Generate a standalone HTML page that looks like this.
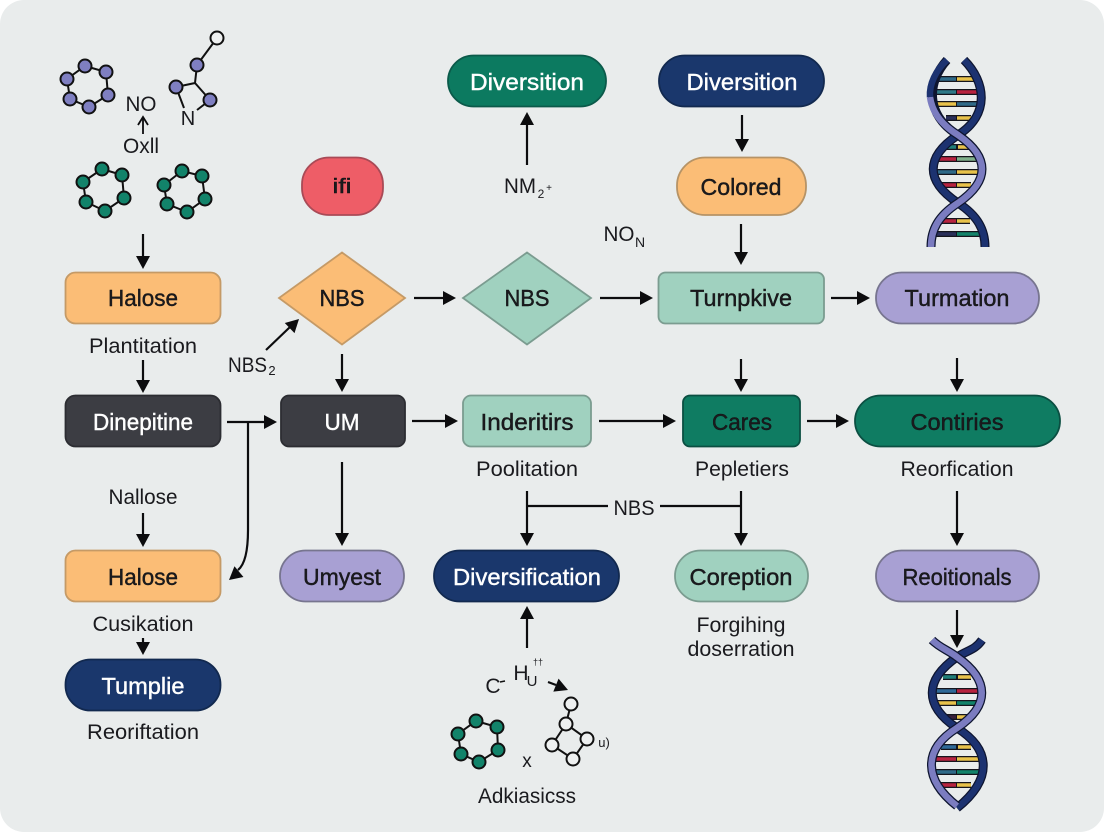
<!DOCTYPE html>
<html><head><meta charset="utf-8"><style>
html,body{margin:0;padding:0;background:#fff;width:1104px;height:832px;overflow:hidden}
svg{display:block}
text{font-family:"Liberation Sans",sans-serif;font-size:21.5px;fill:#1a1a1e;text-anchor:middle}
.n{font-size:23px;stroke:#111;stroke-width:.4px}
.w{font-size:23px;fill:#fff;stroke:#fff;stroke-width:.4px}
.a{stroke:#0c0c0e;stroke-width:2.2;fill:none}
.b{stroke:#111;stroke-width:2}
</style></head><body>
<svg width="1104" height="832" viewBox="0 0 1104 832" xmlns="http://www.w3.org/2000/svg">
<defs>
<g id="ap"><path d="M0 0L-13 -7L-13 7Z" fill="#0c0c0e"/></g>
</defs>
<rect x="0" y="0" width="1104" height="832" rx="24" fill="#e9ecec"/>

<!-- connectors -->
<g class="a">
<path d="M143 234V258"/><path d="M143 360V382"/><path d="M143 513V535"/><path d="M143 638V645"/>
<path d="M227 422H265"/><path d="M248 422V530Q248 562 238 570"/>
<path d="M266 350L290 327"/><path d="M342 354V381"/><path d="M342 462V536"/>
<path d="M414 298H444"/><path d="M600 298H642"/><path d="M831 298H860"/>
<path d="M412 421H447"/><path d="M599 421H665"/><path d="M807 421H838"/>
<path d="M527 165V121"/><path d="M742 115V142"/><path d="M741 224V252"/>
<path d="M741 359V381"/><path d="M957 358V381"/><path d="M957 491V535"/><path d="M957 610V636"/>
<path d="M527 491V534"/><path d="M527 506H608"/><path d="M660 506H741"/><path d="M741 491V534"/>
<path d="M527 648V612"/><path d="M548 682L556 685"/>
<path d="M143 117V134" stroke-width="1.8"/>
</g>
<g>
<use href="#ap" transform="translate(143,269) rotate(90)"/>
<use href="#ap" transform="translate(143,393) rotate(90)"/>
<use href="#ap" transform="translate(143,547) rotate(90)"/>
<use href="#ap" transform="translate(143,655) rotate(90)"/>
<use href="#ap" transform="translate(277,422)"/>
<use href="#ap" transform="translate(229,580) rotate(140)"/>
<use href="#ap" transform="translate(299,319) rotate(-44)"/>
<use href="#ap" transform="translate(342,392) rotate(90)"/>
<use href="#ap" transform="translate(342,546) rotate(90)"/>
<use href="#ap" transform="translate(456,298)"/>
<use href="#ap" transform="translate(653,298)"/>
<use href="#ap" transform="translate(870,298)"/>
<use href="#ap" transform="translate(458,421)"/>
<use href="#ap" transform="translate(676,421)"/>
<use href="#ap" transform="translate(849,421)"/>
<use href="#ap" transform="translate(527,112) rotate(-90)"/>
<use href="#ap" transform="translate(742,152) rotate(90)"/>
<use href="#ap" transform="translate(741,265) rotate(90)"/>
<use href="#ap" transform="translate(741,392) rotate(90)"/>
<use href="#ap" transform="translate(957,392) rotate(90)"/>
<use href="#ap" transform="translate(957,546) rotate(90)"/>
<use href="#ap" transform="translate(957,648) rotate(90)"/>
<use href="#ap" transform="translate(527,546) rotate(90)"/>
<use href="#ap" transform="translate(741,546) rotate(90)"/>
<use href="#ap" transform="translate(527,606) rotate(-90)"/>
<use href="#ap" transform="translate(568,690) rotate(22)"/>
<path d="M138 125L143 117L148 125" fill="none" stroke="#0c0c0e" stroke-width="1.8"/>
</g>

<!-- nodes -->
<g stroke-width="1.8">
<rect x="65.5" y="272.5" width="155" height="51" rx="10" fill="#fbbd76" stroke="#c59a66"/>
<rect x="65.5" y="395.5" width="155" height="51" rx="10" fill="#3c3d43" stroke="#2c2d32"/>
<rect x="65.5" y="550.5" width="155" height="51" rx="10" fill="#fbbd76" stroke="#c59a66"/>
<rect x="65.5" y="659.5" width="155" height="51" rx="25" fill="#1a376c" stroke="#12294f"/>
<rect x="302" y="157.5" width="81" height="57.5" rx="27" fill="#ee5d67" stroke="#a94a56"/>
<path d="M342 252.5L405 298L342 344.5L279 298Z" fill="#fbbd76" stroke="#c59a66"/>
<path d="M527 252.5L591 298L527 344.5L463 298Z" fill="#a0d1bf" stroke="#7b9c90"/>
<rect x="448" y="55.5" width="158" height="51" rx="25.5" fill="#0c7a60" stroke="#0b5a4a"/>
<rect x="659" y="55.5" width="165" height="51" rx="25.5" fill="#1a376c" stroke="#12294f"/>
<rect x="677" y="157.5" width="129" height="57.5" rx="28" fill="#fbbd76" stroke="#b69366"/>
<rect x="658.5" y="272.5" width="165.5" height="51" rx="7" fill="#a0d1bf" stroke="#7b9c90"/>
<rect x="876" y="272.5" width="163" height="51" rx="25.5" fill="#a8a0d3" stroke="#77758f"/>
<rect x="281" y="395.5" width="124" height="51" rx="8" fill="#3c3d43" stroke="#2c2d32"/>
<rect x="463" y="395.5" width="128" height="51" rx="8" fill="#a0d1bf" stroke="#7b9c90"/>
<rect x="683" y="395.5" width="117" height="51" rx="7" fill="#0f7c62" stroke="#0b4f42"/>
<rect x="855" y="395.5" width="205" height="51" rx="25.5" fill="#0f7c62" stroke="#0b4f42"/>
<rect x="280" y="550.5" width="124" height="51" rx="25.5" fill="#a8a0d3" stroke="#77758f"/>
<rect x="434" y="550.5" width="185" height="51" rx="25.5" fill="#1a376c" stroke="#12294f"/>
<rect x="675" y="550.5" width="133" height="51" rx="25.5" fill="#a0d1bf" stroke="#7b9c90"/>
<rect x="876" y="550.5" width="163" height="51" rx="25.5" fill="#a8a0d3" stroke="#77758f"/>
</g>

<!-- node labels -->
<text class="n" x="143" y="306" textLength="70" lengthAdjust="spacingAndGlyphs">Halose</text>
<text class="w" x="143" y="430" textLength="100" lengthAdjust="spacingAndGlyphs">Dinepitine</text>
<text class="n" x="143" y="585" textLength="70" lengthAdjust="spacingAndGlyphs">Halose</text>
<text class="w" x="143" y="694" textLength="83" lengthAdjust="spacingAndGlyphs">Tumplie</text>
<text class="n" x="342" y="193" textLength="19" lengthAdjust="spacingAndGlyphs" style="font-size:20px">ifi</text>
<text class="n" x="342" y="306" textLength="45" lengthAdjust="spacingAndGlyphs">NBS</text>
<text class="n" x="527" y="306" textLength="45" lengthAdjust="spacingAndGlyphs">NBS</text>
<text class="w" x="527" y="90" textLength="114" lengthAdjust="spacingAndGlyphs">Diversition</text>
<text class="w" x="742" y="90" textLength="111" lengthAdjust="spacingAndGlyphs">Diversition</text>
<text class="n" x="741" y="195" textLength="81" lengthAdjust="spacingAndGlyphs">Colored</text>
<text class="n" x="741" y="306" textLength="102" lengthAdjust="spacingAndGlyphs">Turnpkive</text>
<text class="n" x="957" y="306" textLength="105" lengthAdjust="spacingAndGlyphs">Turmation</text>
<text class="w" x="342" y="430" textLength="35" lengthAdjust="spacingAndGlyphs">UM</text>
<text class="n" x="527" y="430" textLength="93" lengthAdjust="spacingAndGlyphs">Inderitirs</text>
<text class="n" x="742" y="430" textLength="60" lengthAdjust="spacingAndGlyphs">Cares</text>
<text class="n" x="957" y="430" textLength="93" lengthAdjust="spacingAndGlyphs">Contiries</text>
<text class="n" x="342" y="585" textLength="78" lengthAdjust="spacingAndGlyphs">Umyest</text>
<text class="w" x="527" y="585" textLength="148" lengthAdjust="spacingAndGlyphs">Diversification</text>
<text class="n" x="741" y="585" textLength="103" lengthAdjust="spacingAndGlyphs">Coreption</text>
<text class="n" x="957" y="585" textLength="109" lengthAdjust="spacingAndGlyphs">Reoitionals</text>

<!-- free labels -->
<text x="143" y="353" textLength="108" lengthAdjust="spacingAndGlyphs">Plantitation</text>
<text x="143" y="504" textLength="69" lengthAdjust="spacingAndGlyphs">Nallose</text>
<text x="143" y="631" textLength="101" lengthAdjust="spacingAndGlyphs">Cusikation</text>
<text x="143" y="739" textLength="112" lengthAdjust="spacingAndGlyphs">Reoriftation</text>
<text x="247.5" y="372" textLength="39" lengthAdjust="spacingAndGlyphs">NBS</text><text x="272" y="375" style="font-size:13px">2</text>
<text x="527" y="476" textLength="102" lengthAdjust="spacingAndGlyphs">Poolitation</text>
<text x="742" y="476" textLength="94" lengthAdjust="spacingAndGlyphs">Pepletiers</text>
<text x="957" y="476" textLength="113" lengthAdjust="spacingAndGlyphs">Reorfication</text>
<text x="634" y="515" textLength="41" lengthAdjust="spacingAndGlyphs">NBS</text>
<text x="741" y="632" textLength="89" lengthAdjust="spacingAndGlyphs">Forgihing</text>
<text x="741" y="656" textLength="107" lengthAdjust="spacingAndGlyphs">doserration</text>
<text x="527" y="803" textLength="98" lengthAdjust="spacingAndGlyphs">Adkiasicss</text>
<text x="520" y="193" textLength="32" lengthAdjust="spacingAndGlyphs">NM</text><text x="541" y="198" style="font-size:12px">2</text><text x="549" y="191" style="font-size:10px">+</text>
<text x="619" y="241" textLength="31" lengthAdjust="spacingAndGlyphs">NO</text><text x="640" y="247" style="font-size:14px">N</text>
<text x="141" y="111" textLength="31" lengthAdjust="spacingAndGlyphs">NO</text>
<text x="141" y="153" textLength="36" lengthAdjust="spacingAndGlyphs">Oxll</text>
<text x="188" y="125" style="font-size:20px">N</text>
<text x="493" y="693" style="font-size:21px">C</text><path d="M500 682l5 -1" stroke="#111" stroke-width="1.5"/>
<text x="521" y="680" style="font-size:21px">H</text><text x="532" y="686" style="font-size:15px">U</text><text x="538" y="665" style="font-size:9px">††</text>
<text x="604" y="747" style="font-size:13px">u)</text>
<text x="527" y="767" style="font-size:19px">x</text>

<!-- molecules -->
<g class="b" fill="none">
<path d="M85 66L106 72L108 95L89 107L70 99L67 79Z"/>
<path d="M217 38L197 65L195 83L176 87L184 108M195 83L210 100L197 110"/>
<path d="M102 169L122 175L124 198L105 211L86 202L83 182Z"/>
<path d="M182 171L202 176L205 199L187 212L167 204L164 185Z"/>
<path d="M476 721L497 727L498 750L479 762L461 754L458 734Z"/>
<path d="M571 704L566 724L587 739L573 759L552 745L566 724"/>
</g>
<g class="b" fill="#7f7fc1">
<circle cx="85" cy="66" r="6.5"/><circle cx="106" cy="72" r="6.5"/><circle cx="108" cy="95" r="6.5"/><circle cx="89" cy="107" r="6.5"/><circle cx="70" cy="99" r="6.5"/><circle cx="67" cy="79" r="6.5"/>
<circle cx="197" cy="65" r="6.5"/><circle cx="176" cy="87" r="6.5"/><circle cx="210" cy="100" r="6.5"/>
</g>
<circle class="b" cx="217" cy="38" r="6.5" fill="#eef0f0"/>
<g class="b" fill="#12836a">
<circle cx="102" cy="169" r="6.5"/><circle cx="122" cy="175" r="6.5"/><circle cx="124" cy="198" r="6.5"/><circle cx="105" cy="211" r="6.5"/><circle cx="86" cy="202" r="6.5"/><circle cx="83" cy="182" r="6.5"/>
<circle cx="182" cy="171" r="6.5"/><circle cx="202" cy="176" r="6.5"/><circle cx="205" cy="199" r="6.5"/><circle cx="187" cy="212" r="6.5"/><circle cx="167" cy="204" r="6.5"/><circle cx="164" cy="185" r="6.5"/>
<circle cx="476" cy="721" r="6.5"/><circle cx="497" cy="727" r="6.5"/><circle cx="498" cy="750" r="6.5"/><circle cx="479" cy="762" r="6.5"/><circle cx="461" cy="754" r="6.5"/><circle cx="458" cy="734" r="6.5"/>
</g>
<g class="b" fill="#eef0f0">
<circle cx="571" cy="704" r="6.5"/><circle cx="566" cy="724" r="6.5"/><circle cx="587" cy="739" r="6.5"/><circle cx="573" cy="759" r="6.5"/><circle cx="552" cy="745" r="6.5"/>
</g>

<!-- DNA top -->
<g fill="none" stroke-linecap="butt">
<path d="M938 79H974M933 92H981M936 104H980M946 118H971M943 147H969M934 159H978M933 172H980M941 185H971M938 221H970M934 234H980" stroke="#15151c" stroke-width="6"/>
<g stroke-width="3.5">
<path d="M938 79H956" stroke="#2f6a88"/><path d="M957 79H974" stroke="#e8c24a"/>
<path d="M933 92H956" stroke="#2f7a88"/><path d="M957 92H981" stroke="#b8233f"/>
<path d="M936 104H956" stroke="#e8c24a"/><path d="M957 104H980" stroke="#2f6a88"/>
<path d="M946 118H956" stroke="#2a2f5a"/><path d="M957 118H971" stroke="#e8c24a"/>
<path d="M943 147H956" stroke="#1f7f78"/><path d="M958 147H969" stroke="#e8c24a"/>
<path d="M934 159H956" stroke="#b8233f"/><path d="M957 159H978" stroke="#7fb08a"/>
<path d="M933 172H956" stroke="#2f6a88"/><path d="M957 172H980" stroke="#e8c24a"/>
<path d="M941 185H956" stroke="#b8233f"/><path d="M957 185H971" stroke="#e8c24a"/>
<path d="M938 221H956" stroke="#b8233f"/><path d="M957 221H970" stroke="#e8c24a"/>
<path d="M934 234H956" stroke="#2a2f5a"/><path d="M957 234H980" stroke="#12836a"/>
</g>
<path d="M964 60C986 82 990 115 958 135C925 157 925 181 958 203C978 216 985 230 985 247" stroke="#0e1530" stroke-width="9"/>
<path d="M964 60C986 82 990 115 958 135C925 157 925 181 958 203C978 216 985 230 985 247" stroke="#1c3270" stroke-width="6.5"/>
<path d="M931 247C931 230 938 216 958 203C990 181 990 157 958 135C925 115 927 82 947 60" stroke="#0e1530" stroke-width="9"/>
<path d="M931 247C931 230 938 216 958 203C990 181 990 157 958 135C942 125 932 112 930 97" stroke="#7b7cc0" stroke-width="6.5"/>
<path d="M930 97C929 84 936 70 947 60" stroke="#1c3270" stroke-width="6.5"/>
</g>

<!-- DNA bottom -->
<g fill="none" stroke-linecap="butt">
<path d="M943 677H971M933 691H981M935 703H980M946 717H971M941 747H971M935 759H979M933 772H980M941 785H971" stroke="#15151c" stroke-width="6"/>
<g stroke-width="3.5">
<path d="M943 677H956" stroke="#1f7f78"/><path d="M958 677H971" stroke="#e8c24a"/>
<path d="M933 691H956" stroke="#2f6a98"/><path d="M957 691H981" stroke="#b8233f"/>
<path d="M935 703H956" stroke="#e8c24a"/><path d="M957 703H980" stroke="#12836a"/>
<path d="M946 717H956" stroke="#3a1f3a"/><path d="M957 717H971" stroke="#e8c24a"/>
<path d="M941 747H956" stroke="#2f6a98"/><path d="M958 747H971" stroke="#e8c24a"/>
<path d="M935 759H956" stroke="#b8233f"/><path d="M957 759H979" stroke="#e8c24a"/>
<path d="M933 772H956" stroke="#2f6a88"/><path d="M957 772H980" stroke="#12836a"/>
<path d="M941 785H956" stroke="#b8233f"/><path d="M957 785H971" stroke="#e8c24a"/>
</g>
<path d="M982 640C975 650 968 650 957 657C924 680 924 706 957 728C992 750 992 780 957 808" stroke="#0e1530" stroke-width="9"/>
<path d="M982 640C975 650 968 650 957 657C924 680 924 706 957 728C992 750 992 780 957 808" stroke="#1c3270" stroke-width="6.5"/>
<path d="M932 640C940 648 948 650 957 657C990 680 990 706 957 728C922 750 924 780 957 806" stroke="#0e1530" stroke-width="9"/>
<path d="M932 640C940 648 948 650 957 657C990 680 990 706 957 728C922 750 924 780 957 806" stroke="#7b7cc0" stroke-width="6.5"/>
</g>
</svg>
</body></html>
